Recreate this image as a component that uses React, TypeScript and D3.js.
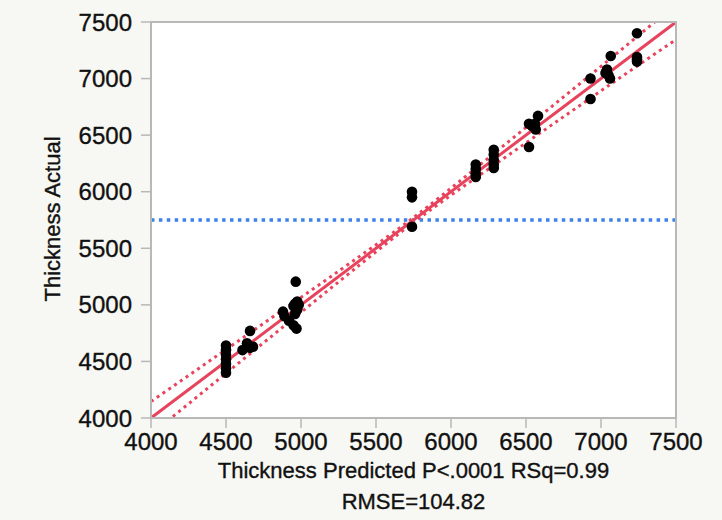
import React from "react";
import * as d3 from "d3";

// ---- data ----
const xTicks = [4000, 4500, 5000, 5500, 6000, 6500, 7000, 7500];
const yTicks = [4000, 4500, 5000, 5500, 6000, 6500, 7000, 7500];

const predicted = [
  4500, 4500, 4500, 4500, 4500, 4500, 4500,
  4610, 4650, 4680, 4640, 4660, 4660,
  4965, 4975, 4960, 4985, 4950, 4975, 4880, 4890, 4920, 4950, 4970, 4960,
  5740, 5740, 5740,
  6165, 6165, 6165, 6165,
  6285, 6285, 6285, 6285, 6285,
  6520, 6540, 6565, 6580, 6520, 6560,
  6930, 6930, 7030, 7040, 7060, 7065, 7050, 7240, 7240, 7240, 7240,
];
const actual = [
  4400, 4440, 4480, 4520, 4560, 4600, 4640,
  4600, 4640, 4630, 4660, 4620, 4770,
  5205, 5030, 5010, 5000, 4990, 4960, 4940, 4900, 4860, 4820, 4790, 4920,
  6000, 5950, 5690,
  6240, 6200, 6160, 6130,
  6370, 6330, 6280, 6240, 6210,
  6600, 6580, 6550, 6670, 6395, 6600,
  7000, 6820, 7050, 7080, 7000, 7200, 7030, 7400, 7190, 7150, 7170,
];

const meanActual = 5750;
const bandX = [4000, 4500, 5000, 5500, 5750, 6000, 6500, 7000, 7500];
const bandHalf = [145, 105, 66, 31, 22, 31, 68, 108, 155];

const xTitle = "Thickness Predicted P<.0001 RSq=0.99";
const xTitle2 = "RMSE=104.82";
const yTitle = "Thickness Actual";

export default function App() {
  const W = 722, H = 520;
  const L = 151, R = 676, T = 22, B = 418;
  const x = d3.scaleLinear().domain([4000, 7500]).range([L, R]);
  const y = d3.scaleLinear().domain([4000, 7500]).range([B, T]);

  const fitLine = d3.line<number>().x((v) => x(v)).y((v) => y(v));
  const upper = d3
    .line<number>()
    .x((v) => x(v))
    .y((v, i) => y(v + bandHalf[i]))
    .curve(d3.curveNatural);
  const lower = d3
    .line<number>()
    .x((v) => x(v))
    .y((v, i) => y(v - bandHalf[i]))
    .curve(d3.curveNatural);

  const red = "#e8435c";
  const font = "'Liberation Sans', Arial, Helvetica, sans-serif";
  const frame = "#b8b8b8";
  const textStroke = { stroke: "#111", strokeWidth: 0.35 };

  return (
    <svg
      width={W}
      height={H}
      style={{ position: "absolute", left: 0, top: 0, background: "#f7f7f3" }}
      fontFamily={font}
    >
      <defs>
        <clipPath id="plotclip">
          <rect x={L} y={T} width={R - L} height={B - T} />
        </clipPath>
      </defs>
      <rect x={0} y={0} width={W} height={H} fill="#f7f7f3" />
      <rect x={L} y={T} width={R - L} height={B - T} fill="#ffffff" />

      <g clipPath="url(#plotclip)">
        <line
          x1={L}
          x2={R}
          y1={y(meanActual)}
          y2={y(meanActual)}
          stroke="#3d82ea"
          strokeWidth={3.4}
          strokeDasharray="3.5 4.4"
        />
        <path d={upper(bandX) || ""} fill="none" stroke={red} strokeWidth={3} strokeDasharray="3 4" />
        <path d={lower(bandX) || ""} fill="none" stroke={red} strokeWidth={3} strokeDasharray="3 4" />
        <path d={fitLine([4000, 7500]) || ""} fill="none" stroke={red} strokeWidth={3} />
        {predicted.map((p, i) => (
          <circle key={i} cx={x(p)} cy={y(actual[i])} r={5.3} fill="#000" />
        ))}
      </g>

      {/* frame */}
      <rect x={L} y={T} width={R - L} height={B - T} fill="none" stroke={frame} strokeWidth={2} />

      {/* y axis */}
      {yTicks.map((t) => (
        <g key={"y" + t}>
          <line x1={L - 10} x2={L} y1={y(t)} y2={y(t)} stroke={frame} strokeWidth={1.5} />
          <text x={L - 19} y={y(t)} dy="0.36em" textAnchor="end" fontSize={24} fill="#111" {...textStroke}>
            {t}
          </text>
        </g>
      ))}
      {/* x axis */}
      {xTicks.map((t) => (
        <g key={"x" + t}>
          <line x1={x(t)} x2={x(t)} y1={B} y2={B + 10} stroke={frame} strokeWidth={1.5} />
          <text x={x(t)} y={450} textAnchor="middle" fontSize={24} fill="#111" {...textStroke}>
            {t}
          </text>
        </g>
      ))}

      <text x={(L + R) / 2} y={478} textAnchor="middle" fontSize={22} fill="#111" {...textStroke}>
        {xTitle}
      </text>
      <text x={(L + R) / 2} y={509} textAnchor="middle" fontSize={22} fill="#111" {...textStroke}>
        {xTitle2}
      </text>
      <text
        transform={`translate(60, 219) rotate(-90)`}
        textAnchor="middle"
        fontSize={22}
        fill="#111"
        {...textStroke}
      >
        {yTitle}
      </text>
    </svg>
  );
}
